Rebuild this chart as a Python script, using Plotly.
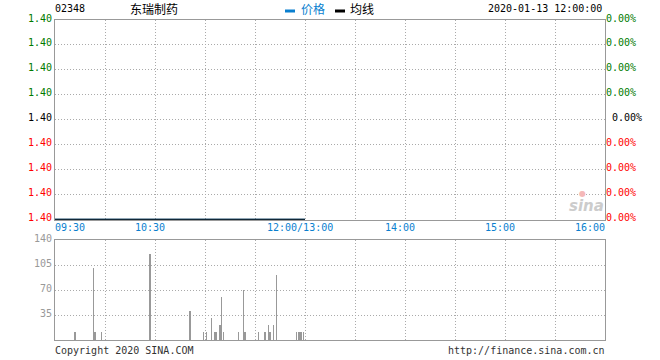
import plotly.graph_objects as go

# ---------------- data ----------------
stock_code = "02348"
stock_name = "东瑞制药"
stamp = "2020-01-13 12:00:00"
legend_names = ["价格", "均线"]

price_times = ["09:30", "12:00"]
price = [1.40, 1.40]
avg_price = [1.40, 1.40]

vol_times = ["09:42", "09:53", "09:54", "09:58", "10:27", "10:51", "10:59", "11:01",
             "11:04", "11:06", "11:07", "11:09", "11:10", "11:11", "11:20", "11:23",
             "11:24", "11:32", "11:36", "11:38", "11:39", "11:41", "11:43", "11:55",
             "11:56", "11:57", "11:58", "11:59"]
volume = [11, 101, 11, 11, 121, 41, 11, 11,
          31, 11, 11, 21, 60, 11, 11, 70,
          11, 11, 11, 21, 11, 21, 91, 11,
          11, 11, 11, 11]

time_labels = ["09:30", "10:30", "12:00/13:00", "14:00", "15:00", "16:00"]
price_labels = ["1.40", "1.40", "1.40", "1.40", "1.40", "1.40", "1.40", "1.40", "1.40"]
pct_labels = ["0.00%", "0.00%", "0.00%", "0.00%", "0.00%", "0.00%", "0.00%", "0.00%", "0.00%"]
vol_ticks = [35, 70, 105, 140]
copyright_text = "Copyright 2020 SINA.COM"
url_text = "http://finance.sina.com.cn"

# ---------------- helpers ----------------
W, H = 660, 360
ML, MR, MT, MB = 55, 55, 20, 20
PW, PH = W - ML - MR, H - MT - MB


def to_min(t):
    t = t.split("/")[0]
    h, m = map(int, t.split(":"))
    v = h * 60 + m
    if v <= 12 * 60:
        return v - (9 * 60 + 30)
    return v - 13 * 60 + 150


def px(x):
    return (x - ML) / PW


def py(y):
    return (H - MB - y) / PH


MONO = "DejaVu Sans Mono"
CJK = "Noto Sans CJK SC"
BLUE = "#0a7fcf"
GRID = "#aaaaaa"
BORDER = "#999999"
GREEN = "#007a00"

n = len(price_labels)
mid = n // 2
step = 0.0001
base = min(price)
price_vals = [base + i * step for i in range(n)]


def col(i):
    if i > mid:
        return GREEN
    if i < mid:
        return "red"
    return "black"


left_text = ["<span style='color:%s'>%s</span>" % (col(i), t) for i, t in enumerate(price_labels)]
right_text = ["<span style='color:%s'>%s%s</span>" % (col(i), "\u00a0" if i == mid else "", t)
              for i, t in enumerate(pct_labels)]

fig = go.Figure()
fig.add_trace(go.Scatter(x=[to_min(t) for t in price_times], y=price, mode="lines",
                         line=dict(color=BLUE, width=1), xaxis="x", yaxis="y", hoverinfo="skip"))
fig.add_trace(go.Scatter(x=[to_min(t) for t in price_times], y=avg_price, mode="lines",
                         line=dict(color="black", width=1), xaxis="x", yaxis="y3", hoverinfo="skip"))
fig.add_trace(go.Bar(x=[to_min(t) for t in vol_times], y=volume, width=0.7,
                     marker=dict(color="#999999", line=dict(width=0)), xaxis="x2", yaxis="y2",
                     hoverinfo="skip"))

yr = [base - 0.03 * step, base + (n - 1) * step]
xcommon = dict(range=[0, 330], tickvals=list(range(30, 330, 30)), showticklabels=False,
               showgrid=True, gridcolor=GRID, griddash="1px,2px", gridwidth=1,
               showline=True, mirror=True, linecolor=BORDER, linewidth=1,
               zeroline=False, ticks="", automargin=False, fixedrange=True)

fig.update_layout(
    width=W, height=H, margin=dict(l=ML, r=MR, t=MT, b=MB),
    paper_bgcolor="white", plot_bgcolor="white", showlegend=False, bargap=0,
    xaxis=dict(anchor="y", **xcommon),
    xaxis2=dict(anchor="y2", matches="x", **xcommon),
    yaxis=dict(domain=[py(220), 1], range=yr, tickvals=price_vals, ticktext=left_text,
               tickfont=dict(family=MONO, size=10), ticklabelshift=-2,
               showgrid=True, gridcolor=GRID, griddash="1px,2px", gridwidth=1,
               showline=True, mirror=True, linecolor=BORDER, linewidth=1,
               zeroline=False, ticks="", automargin=False, fixedrange=True),
    yaxis3=dict(overlaying="y", side="right", range=yr, tickvals=price_vals, ticktext=right_text,
                tickfont=dict(family=MONO, size=10), ticklabelshift=-2,
                showgrid=False, zeroline=False, ticks="", automargin=False, showline=False,
                fixedrange=True),
    yaxis2=dict(domain=[0, py(240)], range=[0, 140], tickvals=vol_ticks,
                tickfont=dict(family=MONO, size=10, color="#999999"), ticklabelshift=-2,
                showgrid=True, gridcolor=GRID, griddash="1px,2px", gridwidth=1,
                showline=True, mirror=True, linecolor=BORDER, linewidth=1,
                zeroline=False, ticks="", automargin=False, fixedrange=True),
)

ann = []


def text(x, y, s, anchor="left", color="black", family=MONO, size=10, **kw):
    ann.append(dict(x=px(x), y=py(y), xref="paper", yref="paper", text=s, showarrow=False,
                    xanchor=anchor, yanchor="middle", borderpad=0, borderwidth=0,
                    font=dict(family=family, size=size, color=color), **kw))


text(55, 9, stock_code)
text(130, 9, stock_name, family=CJK, size=12)
text(301, 9, legend_names[0], color=BLUE, family=CJK, size=12)
text(350, 9, legend_names[1], family=CJK, size=12)
text(602, 9, stamp, anchor="right")

for i, lab in enumerate(time_labels):
    xm = to_min(lab)
    anchor = "left" if i == 0 else ("right" if i == len(time_labels) - 1 else "center")
    ann.append(dict(x=xm, y=py(227), xref="x", yref="paper", text=lab, showarrow=False,
                    xanchor=anchor, yanchor="middle", xshift=0 if anchor != "center" else -5,
                    borderpad=0, borderwidth=0,
                    font=dict(family=MONO, size=10, color=BLUE)))

text(55, 350, copyright_text, color="#333333")
text(605, 350, url_text, anchor="right", color="#333333")

# sina watermark
ann.append(dict(x=px(586), y=py(206), xref="paper", yref="paper", text="<b><i>sina</i></b>",
                showarrow=False, xanchor="center", yanchor="middle",
                font=dict(family="DejaVu Sans", size=15, color="#cccccc")))
ann.append(dict(x=px(582), y=py(193), xref="paper", yref="paper", text="●",
                showarrow=False, xanchor="center", yanchor="middle",
                font=dict(family="DejaVu Sans", size=8, color="#f5b8b8")))

fig.update_layout(annotations=ann)

fig.add_shape(type="rect", xref="paper", yref="paper", x0=px(285), x1=px(295), y0=py(12.5), y1=py(9.5),
              fillcolor=BLUE, line=dict(width=0))
fig.add_shape(type="rect", xref="paper", yref="paper", x0=px(335), x1=px(345), y0=py(12.5), y1=py(9.5),
              fillcolor="black", line=dict(width=0))

fig.write_html("out.html", config={"displayModeBar": False, "staticPlot": True},
               post_script="document.body.style.margin='0';document.body.style.padding='0';")
